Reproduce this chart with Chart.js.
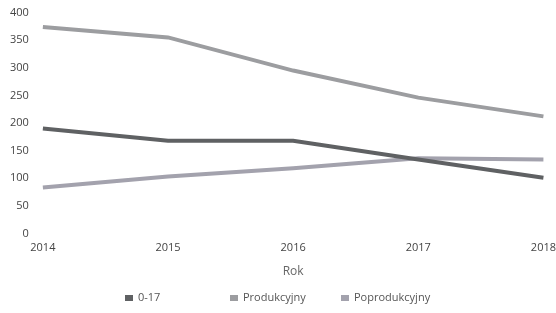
<!DOCTYPE html>
<html>
<head>
<meta charset="utf-8">
<script src="https://cdn.jsdelivr.net/npm/chart.js@4/dist/chart.umd.min.js"></script>
<style>
  html, body { margin: 0; padding: 0; background: #fff; }
  #wrap { width: 556px; height: 313px; }
</style>
</head>
<body>
<div id="wrap"><canvas id="wykres"></canvas></div>
<script>
// dane
const lata = ['2014', '2015', '2016', '2017', '2018']
const mlodzi = [190, 168, 168, 134, 101]
const produkcyjny = [374, 355, 295, 246, 212]
const poprodukcyjny = [83, 103, 118, 136, 134]

// pozycje pozycji legendy (x pudełka)
const legendaX = [125, 230, 341]

const ctx = document.getElementById('wykres')

const seria = (label, data, kolor) => ({
    label,
    data,
    borderColor: kolor,
    backgroundColor: kolor,
    borderWidth: 4,
    pointRadius: 0,
    tension: 0,
    fill: false
})

// legenda rysowana ręcznie pod osią
const legendaPlugin = {
    id: 'legenda',
    afterDraw(chart) {
        const c = chart.ctx
        c.save()
        c.font = '11px "Open Sans"'
        c.textBaseline = 'middle'
        chart.data.datasets.forEach((ds, i) => {
            const x = legendaX[i]
            const y = 298
            c.fillStyle = ds.borderColor
            c.fillRect(x, y - 3, 8, 6)
            c.fillStyle = '#555'
            c.fillText(ds.label, x + 13, y)
        })
        c.restore()
    }
}

new Chart(ctx, {
    type: 'line',
    data: {
        labels: lata,
        datasets: [
            seria('0-17', mlodzi, '#5f6163'),
            seria('Produkcyjny', produkcyjny, '#9c9da0'),
            seria('Poprodukcyjny', poprodukcyjny, '#a3a2ad')
        ]
    },
    options: {
        responsive: true,
        maintainAspectRatio: false,
        animation: false,
        layout: { padding: { left: 4, right: 0, top: 8, bottom: 34 } },
        plugins: {
            legend: { display: false },
            tooltip: { enabled: false }
        },
        scales: {
            x: {
                offset: false,
                grid: { display: false },
                border: { display: false },
                ticks: { color: '#444', font: { family: 'Open Sans', size: 11 }, maxRotation: 0, padding: 0 },
                title: { display: true, text: 'Rok', color: '#666', font: { family: 'Open Sans', size: 12 }, padding: { top: 10, bottom: 0 } }
            },
            y: {
                min: 0,
                max: 400,
                grid: { display: false },
                border: { display: false },
                ticks: { stepSize: 50, color: '#444', font: { family: 'Open Sans', size: 11 }, padding: 6 }
            }
        }
    },
    plugins: [legendaPlugin]
})
</script>
</body>
</html>
